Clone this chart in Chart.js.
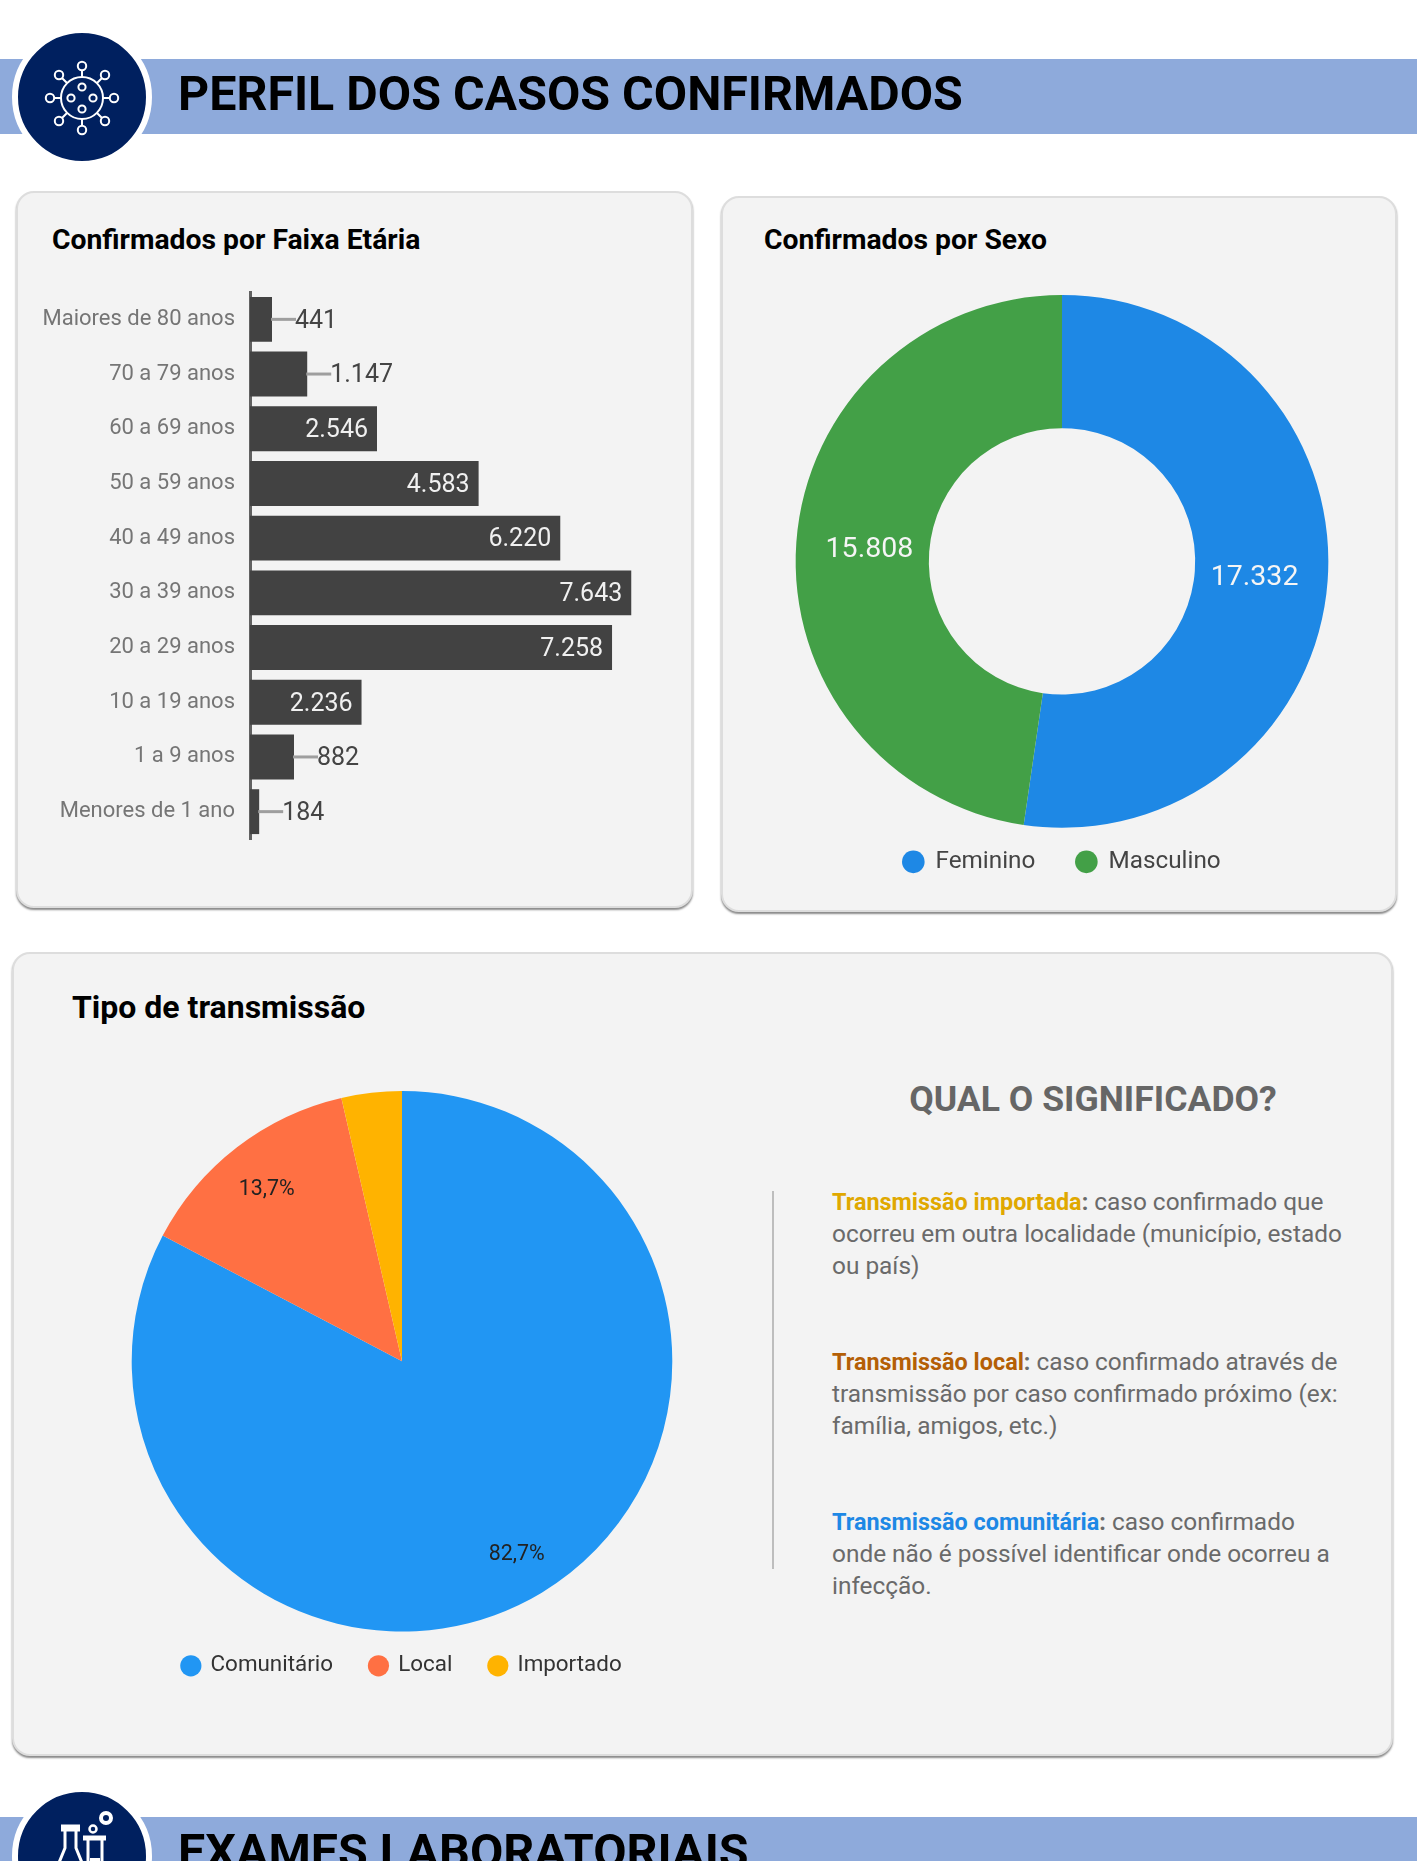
<!DOCTYPE html>
<html lang="pt-BR">
<head>
<meta charset="utf-8">
<title>Perfil dos casos confirmados</title>
<script src="https://cdn.jsdelivr.net/npm/chart.js@4/dist/chart.umd.min.js"></script>
<style>
  html, body { margin: 0; padding: 0; background: #fff; }
  body { position: relative; width: 1417px; height: 1861px; overflow: hidden; font-family: Roboto, sans-serif; }
  .band { position: absolute; left: 0; width: 1417px; background: #8eaadb; }
  .badge { position: absolute; width: 128px; height: 128px; border-radius: 50%; background: #00205f; border: 6px solid #fff; }
  .badge svg { position: absolute; left: 0; top: 0; }
  .heading { position: absolute; margin: 0; font-size: 48.4px; font-weight: 700; color: #000; white-space: nowrap; line-height: 54px; }
  .card { position: absolute; box-sizing: border-box; background: #f3f3f3; border: 2px solid #ddd; border-radius: 18px; box-shadow: 0 2px 2px #8a8a8a; }
  .title { position: absolute; margin: 0; font-size: 28.3px; font-weight: 700; color: #000; white-space: nowrap; line-height: 32px; }
  canvas { position: absolute; }
  #qual { position: absolute; left: 850px; width: 486px; top: 1077px; margin: 0; text-align: center; font-size: 35.6px; font-weight: 700; color: #666; line-height: 44px; white-space: nowrap; }
  #rule { position: absolute; left: 772px; top: 1191px; width: 2px; height: 378px; background: #bdbdbd; }
  .def { position: absolute; left: 832px; margin: 0; font-size: 24.4px; line-height: 32px; color: #6a6a6a; white-space: nowrap; }
  .def b { font-weight: 700; font-size: 23.4px; }
</style>
</head>
<body>

<div class="band" style="top:59px;height:75px"></div>
<div class="badge" style="left:12px;top:27px">
  <svg width="128" height="128" viewBox="-64 -64 128 128" fill="none" stroke="#fff" stroke-width="2">
    <g transform="translate(0,1)">
      <circle r="21"/>
      <circle cx="-11" cy="0" r="3.6"/><circle cx="11" cy="0" r="3.6"/>
      <circle cx="0" cy="-11" r="3.6"/><circle cx="0" cy="11" r="3.6"/>
      <path d="M0-21V-28M0 21V28M-21 0H-28M21 0H28M15-15L20-20M-15-15L-20-20M15 15L20 20M-15 15L-20 20"/>
      <circle cx="0" cy="-32" r="4.2"/><circle cx="0" cy="32" r="4.2"/>
      <circle cx="-32" cy="0" r="4.2"/><circle cx="32" cy="0" r="4.2"/>
      <circle cx="23" cy="-23" r="4.2"/><circle cx="-23" cy="-23" r="4.2"/>
      <circle cx="23" cy="23" r="4.2"/><circle cx="-23" cy="23" r="4.2"/>
    </g>
  </svg>
</div>
<h1 class="heading" style="left:178px;top:67px">PERFIL DOS CASOS CONFIRMADOS</h1>

<div class="card" style="left:16px;top:191px;width:677px;height:717px"></div>
<h2 class="title" style="left:52px;top:224px">Confirmados por Faixa Etária</h2>
<canvas id="faixaChart"></canvas>

<div class="card" style="left:721px;top:196px;width:676px;height:716px"></div>
<h2 class="title" style="left:764px;top:224px">Confirmados por Sexo</h2>
<canvas id="sexoChart"></canvas>

<div class="card" style="left:12px;top:952px;width:1381px;height:804px"></div>
<h2 class="title" style="left:72px;top:991px;font-size:32px">Tipo de transmissão</h2>
<canvas id="transmissaoChart"></canvas>

<h3 id="qual">QUAL O SIGNIFICADO?</h3>
<div id="rule"></div>
<p class="def" style="top:1186px"><b style="color:#e0a800">Transmissão importada</b><b>:</b> caso confirmado que<br>ocorreu em outra localidade (município, estado<br>ou país)</p>
<p class="def" style="top:1346px"><b style="color:#b45f06">Transmissão local</b><b>:</b> caso confirmado através de<br>transmissão por caso confirmado próximo (ex:<br>família, amigos, etc.)</p>
<p class="def" style="top:1506px"><b style="color:#1e88e5">Transmissão comunitária</b><b>:</b> caso confirmado<br>onde não é possível identificar onde ocorreu a<br>infecção.</p>

<div class="band" style="top:1817px;height:75px"></div>
<div class="badge" style="left:12px;top:1786px">
  <svg width="128" height="128" viewBox="18 1792 128 128" fill="none" stroke="#fff">
    <circle cx="106" cy="1818" r="5" stroke-width="4"/>
    <circle cx="93" cy="1829" r="3.5" stroke-width="2.5"/>
    <path d="M61 1828H80" stroke-width="7"/>
    <path d="M65 1831V1848L56 1870M76 1831V1848L85 1870" stroke-width="3"/>
    <path d="M83 1838H106" stroke-width="5"/>
    <path d="M88 1840V1880M102 1840V1880" stroke-width="3"/>
    <path d="M90 1858H100V1880H90Z" fill="#fff" stroke="none"/>
  </svg>
</div>
<h1 class="heading" style="left:178px;top:1825px">EXAMES LABORATORIAIS</h1>

<script>
const faixaLabels = ["Maiores de 80 anos", "70 a 79 anos", "60 a 69 anos", "50 a 59 anos", "40 a 49 anos",
  "30 a 39 anos", "20 a 29 anos", "10 a 19 anos", "1 a 9 anos", "Menores de 1 ano"];
const faixaValues = [441, 1147, 2546, 4583, 6220, 7643, 7258, 2236, 882, 184];

const sexoLabels = ["Feminino", "Masculino"];
const sexoValues = [17332, 15808];
const sexoColors = ["#1e88e5", "#43a047"];

const transmissaoLabels = ["Comunitário", "Local", "Importado"];
const transmissaoValues = [82.7, 13.7, 3.6];
const transmissaoColors = ["#2196f3", "#ff7043", "#ffb300"];

Chart.defaults.font.family = "Roboto, sans-serif";
Chart.defaults.animation = false;
Chart.defaults.responsive = false;
Chart.defaults.plugins.tooltip.enabled = false;

function placeCanvas(id, left, top, width, height) {
  const el = document.getElementById(id);
  el.style.left = left + "px";
  el.style.top = top + "px";
  el.width = width;
  el.height = height;
  return el;
}

const fmtMil = (v) => String(v).replace(/\B(?=(\d{3})+$)/g, ".");
const fmtPct = (v) => v.toFixed(1).replace(".", ",") + "%";

// Value labels on the age bars: inside when they fit, otherwise a leader line and the value outside
const barLabels = {
  id: "barLabels",
  afterDatasetsDraw(chart) {
    const { ctx } = chart;
    const bars = chart.getDatasetMeta(0).data;
    ctx.save();
    ctx.font = "25px Roboto, sans-serif";
    ctx.textBaseline = "middle";
    bars.forEach((bar, i) => {
      const text = fmtMil(faixaValues[i]);
      const w = ctx.measureText(text).width;
      if (bar.x - bar.base > w + 18) {
        ctx.fillStyle = "#f0f0f0";
        ctx.textAlign = "right";
        ctx.fillText(text, bar.x - 9, bar.y + 2);
      } else {
        ctx.strokeStyle = "#9e9e9e";
        ctx.lineWidth = 3;
        ctx.beginPath();
        ctx.moveTo(bar.x - 1, bar.y);
        ctx.lineTo(bar.x + 24, bar.y);
        ctx.stroke();
        ctx.fillStyle = "#444";
        ctx.textAlign = "left";
        ctx.fillText(text, bar.x + 23, bar.y + 2);
      }
    });
    ctx.restore();
  },
};

// Labels on the arcs. opts: radial position, colour, font, formatter, smallest value shown
const arcLabels = {
  id: "arcLabels",
  afterDatasetsDraw(chart, args, opts) {
    const { ctx } = chart;
    const values = chart.data.datasets[0].data;
    ctx.save();
    ctx.font = opts.font;
    ctx.fillStyle = opts.color;
    ctx.textAlign = "center";
    ctx.textBaseline = "middle";
    chart.getDatasetMeta(0).data.forEach((arc, i) => {
      if (values[i] < opts.minValue) return;
      const mid = (arc.startAngle + arc.endAngle) / 2;
      const r = arc.innerRadius + (arc.outerRadius - arc.innerRadius) * opts.position;
      ctx.fillText(opts.format(values[i]), arc.x + Math.cos(mid) * r, arc.y + Math.sin(mid) * r + opts.shiftY);
    });
    ctx.restore();
  },
};

// The legend padding sets both the gap between items and the gap above them, pull it up
const legendLift = {
  id: "legendLift",
  afterLayout(chart, args, opts) {
    chart.legend.top -= opts.lift;
    chart.legend.bottom -= opts.lift;
  },
};

new Chart(placeCanvas("faixaChart", 30, 286, 644, 558), {
  type: "bar",
  plugins: [barLabels],
  data: {
    labels: faixaLabels,
    datasets: [{
      data: faixaValues,
      backgroundColor: "#424242",
      barPercentage: 1,
      categoryPercentage: 0.82,
    }],
  },
  options: {
    indexAxis: "y",
    layout: { padding: { top: 6, bottom: 5 } },
    plugins: { legend: { display: false } },
    scales: {
      x: { display: false, min: 0, max: 8500 },
      y: {
        afterFit(scale) {
          scale.width = 220;
          scale.paddingTop = 0;
          scale.paddingBottom = 0;
        },
        grid: { display: false, drawTicks: false },
        border: { display: true, color: "#616161", width: 3 },
        ticks: { color: "#757575", font: { size: 22 }, padding: 15 },
      },
    },
  },
});

new Chart(placeCanvas("sexoChart", 762, 295, 600, 608), {
  type: "doughnut",
  plugins: [arcLabels, legendLift],
  data: {
    labels: sexoLabels,
    datasets: [{ data: sexoValues, backgroundColor: sexoColors, borderWidth: 0 }],
  },
  options: {
    cutout: "50%",
    plugins: {
      legend: {
        position: "bottom",
        labels: { usePointStyle: true, pointStyle: "circle", boxHeight: 16, boxWidth: 20, padding: 41, color: "#444", font: { size: 24.3 } },
      },
      arcLabels: { position: 0.45, color: "#f5f5f5", font: "28.5px Roboto, sans-serif", format: fmtMil, minValue: 0, shiftY: 2.5 },
      legendLift: { lift: 19 },
    },
  },
});

new Chart(placeCanvas("transmissaoChart", 102, 1091, 600, 610), {
  type: "pie",
  plugins: [arcLabels, legendLift],
  data: {
    labels: transmissaoLabels,
    datasets: [{ data: transmissaoValues, backgroundColor: transmissaoColors, borderWidth: 0 }],
  },
  options: {
    plugins: {
      legend: {
        position: "bottom",
        labels: { usePointStyle: true, pointStyle: "circle", boxHeight: 15, boxWidth: 17, padding: 37, color: "#333", font: { size: 22.4 } },
      },
      arcLabels: { position: 0.82, color: "#222", font: "21.4px Roboto, sans-serif", format: fmtPct, minValue: 5, shiftY: 3.5 },
      legendLift: { lift: 14 },
    },
  },
});
</script>
</body>
</html>
